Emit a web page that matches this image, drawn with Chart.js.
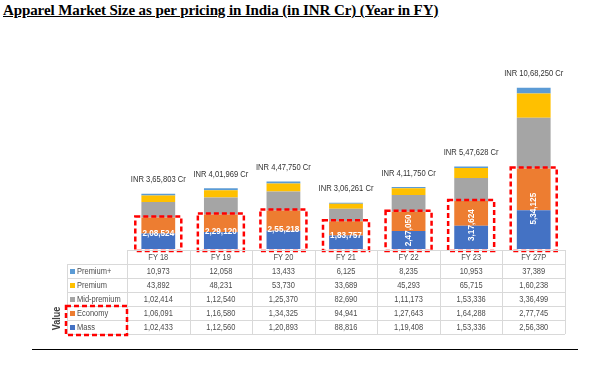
<!DOCTYPE html>
<html>
<head>
<meta charset="utf-8">
<script src="https://cdn.jsdelivr.net/npm/chart.js@4"></script>
<style>
  html, body { margin: 0; padding: 0; background: #fff; }
  #wrap { position: relative; width: 600px; height: 369px; overflow: hidden; }
  #title {
    position: absolute; left: 3px; top: 2px; margin: 0;
    font: bold 15px "Liberation Serif", serif; color: #000;
    text-decoration: underline; white-space: nowrap; letter-spacing: -0.1px;
  }
  #rule { position: absolute; left: 32px; top: 349px; width: 546px; height: 1px; background: #000; }
  canvas { position: absolute; left: 0; top: 0; }
</style>
</head>
<body>
<div id="wrap">
  <div id="title">Apparel Market Size as per pricing in India (in INR Cr) (Year in FY)</div>
  <canvas id="market-chart" width="600" height="369"></canvas>
  <div id="rule"></div>
</div>
<script>
// Values (INR Cr)
const categories = ["FY 18", "FY 19", "FY 20", "FY 21", "FY 22", "FY 23", "FY 27P"];
const premiumPlus = [10973, 12058, 13433, 6125, 8235, 10953, 37389];
const premium = [43892, 48231, 53730, 33689, 45293, 65715, 160238];
const midPremium = [102414, 112540, 125370, 82690, 111173, 153336, 336499];
const economy = [106091, 116580, 134325, 94941, 127643, 164288, 277745];
const mass = [102433, 112560, 120893, 88816, 119408, 153336, 256380];
const totals = [365803, 401969, 447750, 306261, 411750, 547628, 1068250];
const massEconomyLabels = [208524, 229120, 255218, 183757, 247050, 317624, 534125];
const verticalLabel = [false, false, false, false, true, true, true];

const COLORS = {
  premiumPlus: "#5B9BD5",
  premium: "#FFC000",
  midPremium: "#A5A5A5",
  economy: "#ED7D31",
  mass: "#4472C4"
};

// Indian digit grouping: 10,68,250
function inr(n) {
  const s = String(n);
  if (s.length <= 3) return s;
  const last3 = s.slice(-3);
  const rest = s.slice(0, -3).replace(/\B(?=(\d{2})+(?!\d))/g, ",");
  return rest + "," + last3;
}

// rows of the data table, top to bottom
const tableRows = [
  { name: "Premium+", color: COLORS.premiumPlus, data: premiumPlus },
  { name: "Premium", color: COLORS.premium, data: premium },
  { name: "Mid-premium", color: COLORS.midPremium, data: midPremium },
  { name: "Economy", color: COLORS.economy, data: economy },
  { name: "Mass", color: COLORS.mass, data: mass }
];

const FONT = '"Liberation Sans", Arial, sans-serif';

// Calibri-ish: squeeze Liberation Sans horizontally
function narrowText(ctx, text, x, y, sx, angle) {
  ctx.save();
  ctx.translate(x, y);
  if (angle) ctx.rotate(angle);
  ctx.scale(sx, 1);
  ctx.fillText(text, 0, 0);
  ctx.restore();
}

// draws totals, highlighted boxes and the data table under the bars
const overlayPlugin = {
  id: "overlay",
  afterDraw(chart) {
    const ctx = chart.ctx;
    const x = chart.scales.x;
    const y = chart.scales.y;
    const area = chart.chartArea;
    const colW = x.width / categories.length;
    const base = y.getPixelForValue(0);

    ctx.save();
    ctx.textAlign = "center";
    ctx.textBaseline = "middle";

    // totals above bars
    ctx.fillStyle = "#333333";
    ctx.font = "9.5px " + FONT;
    categories.forEach((c, i) => {
      const cx = x.getPixelForValue(i);
      narrowText(ctx, "INR " + inr(totals[i]) + " Cr", cx, y.getPixelForValue(totals[i]) - 14, 0.8);
    });

    // mass + economy labels and red dashed boxes
    categories.forEach((c, i) => {
      const cx = x.getPixelForValue(i);
      const top = y.getPixelForValue(mass[i] + economy[i]);
      const mid = (top + base) / 2;
      ctx.fillStyle = "#fff";
      ctx.font = "bold 9.5px " + FONT;
      narrowText(ctx, inr(massEconomyLabels[i]), cx, mid, 0.86, verticalLabel[i] ? -Math.PI / 2 : 0);
      ctx.strokeStyle = "#FF0000";
      ctx.lineWidth = 2.5;
      ctx.setLineDash([5, 3]);
      ctx.strokeRect(cx - 23, top - 1, 46, base - top + 3);
      ctx.setLineDash([]);
    });

    // data table
    const tableTop = base + 1;
    const rowH = 14;
    const left = area.left;
    const right = area.right;
    const labelLeft = 67;
    ctx.strokeStyle = "#D9D9D9";
    ctx.lineWidth = 1;
    ctx.beginPath();
    ctx.moveTo(left, tableTop + 0.5);
    ctx.lineTo(right, tableTop + 0.5);
    for (let r = 1; r <= tableRows.length + 1; r++) {
      const ly = Math.round(tableTop + r * rowH) + 0.5;
      ctx.moveTo(labelLeft, ly);
      ctx.lineTo(right, ly);
    }
    for (let cI = 0; cI <= categories.length; cI++) {
      const lx = Math.round(left + cI * colW) + 0.5;
      ctx.moveTo(lx, tableTop);
      ctx.lineTo(lx, tableTop + (tableRows.length + 1) * rowH);
    }
    ctx.moveTo(labelLeft + 0.5, tableTop + rowH);
    ctx.lineTo(labelLeft + 0.5, tableTop + (tableRows.length + 1) * rowH);
    ctx.stroke();

    ctx.fillStyle = "#4d4d4d";
    ctx.font = "8.5px " + FONT;
    categories.forEach((c, i) => {
      narrowText(ctx, c, x.getPixelForValue(i), tableTop + rowH / 2 + 0.5, 0.88);
    });
    tableRows.forEach((row, r) => {
      const cy = tableTop + (r + 1) * rowH + rowH / 2 + 0.5;
      ctx.fillStyle = row.color;
      ctx.fillRect(labelLeft + 3, cy - 2.5, 5, 5);
      ctx.fillStyle = "#4d4d4d";
      ctx.textAlign = "left";
      narrowText(ctx, row.name, labelLeft + 10, cy, 0.88);
      ctx.textAlign = "center";
      row.data.forEach((v, i) => narrowText(ctx, inr(v), x.getPixelForValue(i), cy, 0.88));
    });

    // highlight of Economy / Mass legend rows
    ctx.strokeStyle = "#FF0000";
    ctx.lineWidth = 2.5;
    ctx.setLineDash([5, 3]);
    ctx.strokeRect(labelLeft - 1, tableTop + 4 * rowH, left - labelLeft + 1, 2 * rowH + 1);
    ctx.setLineDash([]);

    // axis title
    ctx.fillStyle = "#404040";
    ctx.font = "bold 10px " + FONT;
    narrowText(ctx, "Value", 57, tableTop + 4.9 * rowH, 0.9, -Math.PI / 2);

    ctx.restore();
  }
};

function dataset(label, data, color) {
  return {
    label,
    data,
    backgroundColor: color,
    borderWidth: 0,
    barPercentage: 0.9,
    categoryPercentage: 0.6
  };
}

new Chart(document.getElementById("market-chart"), {
  type: "bar",
  data: {
    labels: categories,
    datasets: [
      dataset("Mass", mass, COLORS.mass),
      dataset("Economy", economy, COLORS.economy),
      dataset("Mid-premium", midPremium, COLORS.midPremium),
      dataset("Premium", premium, COLORS.premium),
      dataset("Premium+", premiumPlus, COLORS.premiumPlus)
    ]
  },
  options: {
    responsive: false,
    animation: false,
    devicePixelRatio: 1,
    layout: { padding: { left: 127, right: 35, top: 68, bottom: 120 } },
    plugins: {
      legend: { display: false },
      tooltip: { enabled: false }
    },
    scales: {
      x: { stacked: true, display: false },
      y: { stacked: true, display: false, min: 0, max: 1200000 }
    }
  },
  plugins: [overlayPlugin]
});
</script>
</body>
</html>
